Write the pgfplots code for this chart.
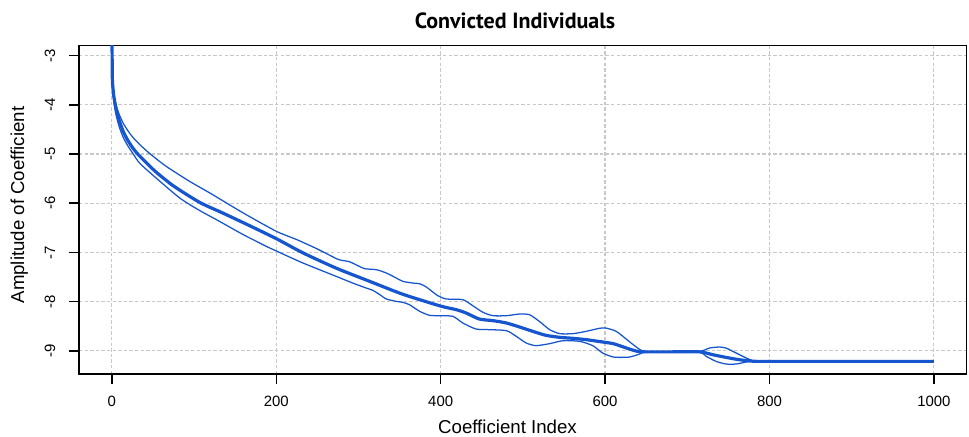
\documentclass[border=0pt]{standalone}
\usepackage{pgfplots}
\pgfplotsset{compat=1.18}
\usepackage{pgfplotstable}
\usepackage{fontspec}
\setmainfont{Liberation Sans}
\newfontfamily\titlefont{PT Sans}

\definecolor{lineblue}{HTML}{1556CF}
\definecolor{gridgray}{HTML}{C8C8C8}

% Amplitude curves: median and the two band limits
\pgfplotstableread{
x y
0 -2.3
0.5 -3.4
1 -3.6
2.3 -3.82
5 -4.07
9 -4.32
14 -4.55
20 -4.74
26 -4.89
32 -5.01
42 -5.18
54 -5.37
75 -5.65
107 -5.985
135 -6.20
168 -6.46
200 -6.72
232.6 -7.01
273 -7.32
314 -7.59
354 -7.85
400 -8.09
419 -8.163
431 -8.231
447 -8.353
464 -8.387
480 -8.434
496 -8.515
512 -8.603
528 -8.684
545 -8.725
561 -8.745
577 -8.772
593 -8.81
610 -8.854
626 -8.942
638 -9.005
648 -9.02
680 -9.02
715 -9.02
731 -9.078
747 -9.132
763 -9.179
780 -9.21
800 -9.213
1000 -9.213
}\medtab

\pgfplotstableread{
x y
0 -2.3
0.5 -3.4
1 -3.58
2.5 -3.78
5 -4.0
9 -4.2
14 -4.38
20 -4.54
26 -4.67
34 -4.81
46 -4.99
66 -5.25
95 -5.56
120 -5.80
160 -6.2
200 -6.57
225 -6.74
250 -6.93
273 -7.125
279 -7.158
289 -7.189
299.5 -7.27
307.6 -7.331
321.8 -7.351
334 -7.419
346 -7.52
354 -7.588
366 -7.622
374.5 -7.636
382.6 -7.703
394.7 -7.859
400 -7.906
407 -7.947
427 -7.960
439 -8.082
451.5 -8.217
463.7 -8.285
480 -8.285
496 -8.251
508 -8.265
520 -8.400
532.6 -8.569
545 -8.650
561 -8.650
577 -8.603
593 -8.542
601 -8.536
613.6 -8.604
625.7 -8.760
638 -8.922
648 -9.01
680 -9.02
715 -9.01
727 -8.942
739 -8.922
747 -8.942
759.5 -9.044
771.7 -9.145
780 -9.2
790 -9.213
1000 -9.213
}\uptab

\pgfplotstableread{
x y
0 -2.3
0.5 -3.45
1 -3.68
2.5 -3.95
5 -4.2
9 -4.45
14 -4.67
20 -4.85
26 -5.0
34 -5.19
54 -5.49
83 -5.9
107 -6.15
130 -6.36
160 -6.64
192 -6.91
200 -6.97
232.6 -7.216
273 -7.487
293 -7.622
309.6 -7.724
317.7 -7.771
326 -7.859
334 -7.947
346 -7.994
354 -8.015
362 -8.062
374.5 -8.197
386.6 -8.278
400 -8.285
415 -8.299
427 -8.434
443 -8.556
459.6 -8.569
480 -8.590
492 -8.705
504 -8.840
516 -8.894
532.6 -8.853
549 -8.793
569 -8.806
585 -8.894
597 -9.043
609.6 -9.124
617.6 -9.132
630 -9.125
642 -9.064
648 -9.03
680 -9.02
715 -9.03
723 -9.111
735 -9.213
747 -9.267
759.5 -9.267
771.7 -9.226
780 -9.21
790 -9.213
1000 -9.213
}\lowtab

\begin{document}
\begin{tikzpicture}[x=0.75pt,y=0.75pt]
\useasboundingbox (0,0) rectangle (969,436);
\begin{axis}[
  at={(59.25pt,46.5pt)}, anchor=south west,
  scale only axis,
  width=665.8pt, height=246.2pt,
  xmin=-40, xmax=1040,
  ymin=-9.47, ymax=-2.80,
  xtick={0,200,...,1000},
  ytick={-9,-8,-7,-6,-5,-4,-3},
  tick align=outside,
  major tick length=7.5pt,
  tick style={black, line width=1.1pt},
  axis line style={black, line width=1.1pt},
  xtick pos=bottom, ytick pos=left,
  grid=major,
  major grid style={gridgray, line width=0.9pt, dash pattern=on 2.6pt off 1.6pt},
  /pgf/number format/assume math mode=true,
  /pgf/number format/1000 sep={},
  ticklabel style={font=\fontsize{11.2}{13}\selectfont},
  xticklabel style={anchor=base, yshift=-16.9pt},
  yticklabel style={rotate=90, anchor=base, yshift=10.5pt},
  clip=true,
]
\addplot[lineblue, line width=0.95pt, smooth, tension=0.4] table {\uptab};
\addplot[lineblue, line width=0.95pt, smooth, tension=0.4] table {\lowtab};
\addplot[lineblue, line width=2.4pt, smooth, tension=0.4] table {\medtab};
\end{axis}
\node[anchor=base, font=\titlefont\bfseries\fontsize{16.5}{19}\selectfont] at (515,407) {Convicted Individuals};
\node[anchor=base, font=\fontsize{14}{16}\selectfont] at (507.5,2.5) {Coefficient Index};
\node[anchor=base, rotate=90, font=\fontsize{14}{16}\selectfont] at (24,231) {Amplitude of Coefficient};
\end{tikzpicture}
\end{document}
